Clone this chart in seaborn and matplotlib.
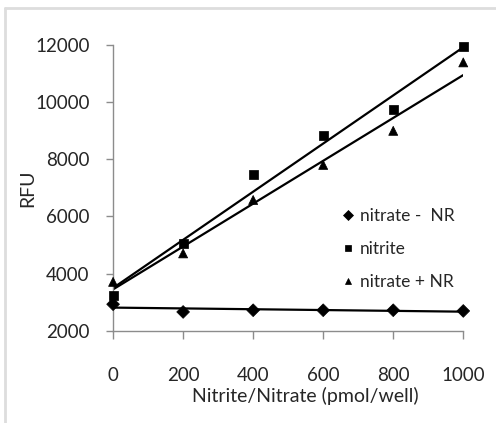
import pandas as pd
import numpy as np
import matplotlib
matplotlib.use('Agg')
import matplotlib.pyplot as plt
import seaborn as sns

# valores
conc = [0, 200, 400, 600, 800, 1000]
nitrate_minus_nr = [2935, 2665, 2725, 2725, 2725, 2700]
nitrite = [3250, 5050, 7450, 8815, 9725, 11940]
nitrate_plus_nr = [3716, 4710, 6575, 7800, 8990, 11380]
series_names = ['nitrate -  NR', 'nitrite', 'nitrate + NR']

df = pd.DataFrame({
    'x': conc * 3,
    'RFU': nitrate_minus_nr + nitrite + nitrate_plus_nr,
    'serie': [s for s in series_names for _ in conc],
})

sns.set_style("white")
plt.rcParams['font.family'] = ['Lato', 'DejaVu Sans']

fig = plt.figure(figsize=(4.96, 4.23), dpi=100)
ax = fig.add_axes([0.228, 0.2175, 0.706, 0.677])

# linhas de tendência
for s in series_names:
    sub = df[df['serie'] == s]
    sns.regplot(x='x', y='RFU', data=sub, scatter=False, ci=None, ax=ax,
                line_kws={'color': 'black', 'linewidth': 1.6})

sns.scatterplot(data=df, x='x', y='RFU', style='serie', style_order=series_names,
                markers={'nitrate -  NR': 'D', 'nitrite': 's', 'nitrate + NR': '^'},
                color='black', edgecolor='black', s=42, clip_on=False, zorder=3, ax=ax)

ax.set_xlim(0, 1000)
ax.set_ylim(2000, 12000)
ax.set_xticks([0, 200, 400, 600, 800, 1000])
ax.set_yticks(range(2000, 12001, 2000))
ax.set_xlabel('Nitrite/Nitrate (pmol/well)', fontsize=14)
ax.set_ylabel('RFU', fontsize=14)
ax.xaxis.set_label_coords(0.549, -0.195)
ax.yaxis.set_label_coords(-0.22, 0.5)

for sp in ['top', 'right']:
    ax.spines[sp].set_visible(False)
for sp in ['left', 'bottom']:
    ax.spines[sp].set_color('#8c8c8c')
    ax.spines[sp].set_linewidth(1.0)
ax.tick_params(axis='x', bottom=True, direction='out', length=6, width=1,
               color='#8c8c8c', pad=20, labelsize=13.5)
ax.tick_params(axis='y', left=True, direction='out', length=5, width=1,
               color='#8c8c8c', pad=12, labelsize=13.5)

leg = ax.legend(loc='upper left', bbox_to_anchor=(0.63, 0.455), frameon=False,
                fontsize=12.5, handlelength=0.8, handletextpad=0.3, labelspacing=1.0,
                markerscale=0.75, borderaxespad=0)

# moldura cinza clara
fig.add_artist(plt.Line2D([0.011, 0.011], [0, 0.981], color='#dddddd', linewidth=2))
fig.add_artist(plt.Line2D([0.011, 1.0], [0.981, 0.981], color='#dddddd', linewidth=2))

plt.savefig('out.png', dpi=100)
